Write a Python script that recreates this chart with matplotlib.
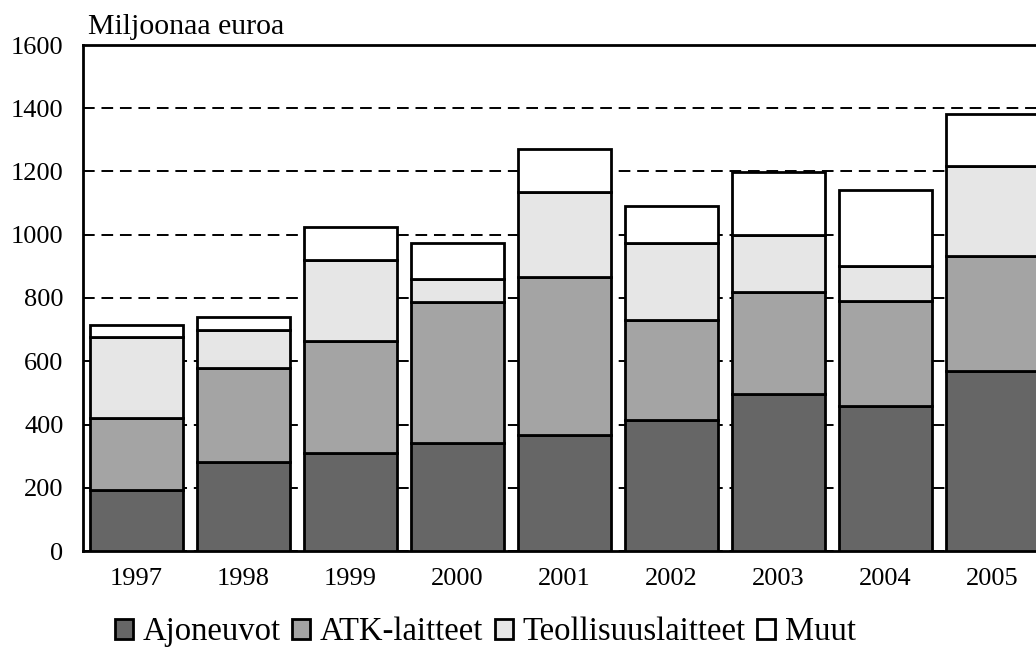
import matplotlib.pyplot as plt
import numpy as np

# values (million euros)
years = ['1997', '1998', '1999', '2000', '2001', '2002', '2003', '2004', '2005']
ajoneuvot = [193, 281, 310, 341, 368, 414, 497, 460, 569]
atk = [228, 297, 353, 446, 498, 318, 321, 331, 365]
teollisuus = [257, 121, 256, 74, 268, 242, 182, 111, 283]
muut = [36, 42, 106, 114, 138, 116, 198, 239, 164]

series = [('Ajoneuvot', ajoneuvot, '#666666'),
          ('ATK-laitteet', atk, '#a4a4a4'),
          ('Teollisuuslaitteet', teollisuus, '#e6e6e6'),
          ('Muut', muut, 'white')]

plt.rcParams['font.family'] = ['Liberation Serif', 'DejaVu Serif']

fig = plt.figure(figsize=(10.36, 6.47), dpi=100)
# axes runs past the right edge like the cropped scan
ax = fig.add_axes([83 / 1036, 96 / 647, 963 / 1036, 506 / 647])

x = np.arange(len(years))
bottom = np.zeros(len(years))
for name, vals, col in series:
    ax.bar(x, vals, width=0.86, bottom=bottom, color=col, edgecolor='black',
           linewidth=2, label=name, zorder=3)
    bottom += np.array(vals)

ax.set_xlim(-0.5, 8.5)
ax.set_ylim(0, 1600)
ax.set_yticks(range(0, 1601, 200))
ax.set_xticks(x)
ax.set_xticklabels(years, fontsize=19)
ax.tick_params(axis='y', length=0, pad=14, labelsize=19)
ax.tick_params(axis='x', length=0, pad=12)

ax.yaxis.grid(True, linestyle=(0, (6, 3.5)), color='black', linewidth=1.4, zorder=0)
ax.set_axisbelow(True)
for s in ['left', 'top', 'bottom']:
    ax.spines[s].set_linewidth(2)
ax.spines['right'].set_visible(False)

fig.text(88 / 1036, 1 - 34 / 647, 'Miljoonaa euroa', fontsize=21.5, va='baseline', ha='left')

fig.legend(loc='center left', bbox_to_anchor=(115 / 1036, 1 - 632 / 647), ncol=4,
           frameon=False, fontsize=23.5, handlelength=0.55, handleheight=0.55,
           handletextpad=0.3, columnspacing=0.35, borderpad=0, borderaxespad=0)

fig.savefig('out.png', dpi=100)
